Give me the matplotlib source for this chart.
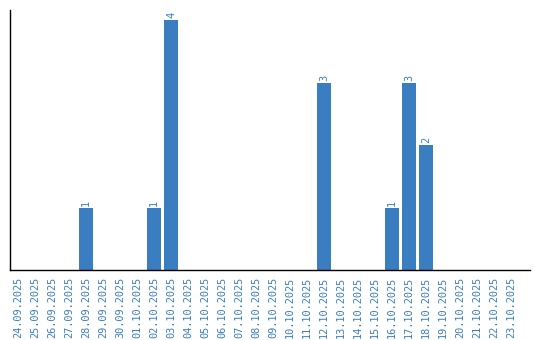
import matplotlib
matplotlib.use("Agg")
import matplotlib.pyplot as plt

dates = ["24.09.2025","25.09.2025","26.09.2025","27.09.2025","28.09.2025","29.09.2025",
         "30.09.2025","01.10.2025","02.10.2025","03.10.2025","04.10.2025","05.10.2025",
         "06.10.2025","07.10.2025","08.10.2025","09.10.2025","10.10.2025","11.10.2025",
         "12.10.2025","13.10.2025","14.10.2025","15.10.2025","16.10.2025","17.10.2025",
         "18.10.2025","19.10.2025","20.10.2025","21.10.2025","22.10.2025","23.10.2025"]
counts = [0,0,0,0,1,0,0,0,1,4,0,0,0,0,0,0,0,0,3,0,0,0,1,3,2,0,0,0,0,0]

blue = "#3a7ec1"
fig = plt.figure(figsize=(5.4,3.4), dpi=100)
ax = fig.add_axes([10/540, 70/340, 520/540, 260/340])

x = list(range(len(dates)))
ax.bar(x, counts, width=0.82, color=blue)
# value labels above the bars
for i, c in enumerate(counts):
    if c > 0:
        ax.text(i, c + 0.03, str(c), rotation=90, ha="center", va="bottom",
                color=blue, fontsize=7.4, family="DejaVu Sans Mono")

ax.set_xlim(-0.47, 30.12)
ax.set_ylim(0, 4.16)
ax.set_xticks(x)
ax.set_xticklabels(dates, rotation=90, color=blue, fontsize=7.4, family="DejaVu Sans Mono")
ax.tick_params(axis="x", length=0, pad=5)
ax.set_yticks([])
ax.spines["top"].set_visible(False)
ax.spines["right"].set_visible(False)
ax.spines["left"].set_linewidth(1.0)
ax.spines["bottom"].set_linewidth(1.0)

plt.savefig("out.png", dpi=100)
